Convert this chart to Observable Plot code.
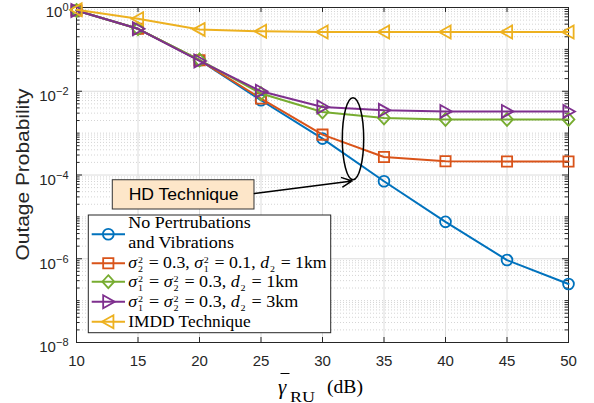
<!DOCTYPE html>
<html><head><meta charset="utf-8">
<script src="https://cdn.jsdelivr.net/npm/d3@7"></script>
<script src="https://cdn.jsdelivr.net/npm/@observablehq/plot@0.6"></script>
<style>
body{margin:0;background:#fff}
#wrap{position:relative;width:594px;height:403px;overflow:hidden;background:#fff}
</style></head><body><div id="wrap"></div>
<script>
// ---------- data ----------
const snrDb = [10, 15, 20, 25, 30, 35, 40, 45, 50];
const noPert   = [0.85, 0.31, 0.055, 0.0061, 7.4e-4, 7.1e-5, 7.6e-6, 9.3e-7, 2.5e-7];
const pertA    = [0.85, 0.31, 0.055, 0.0067, 9.2e-4, 2.7e-4, 2.12e-4, 2.1e-4, 2.1e-4];
const pertB    = [0.85, 0.31, 0.056, 0.0088, 3.2e-3, 2.3e-3, 2.12e-3, 2.12e-3, 2.12e-3];
const pertC    = [0.85, 0.31, 0.053, 0.0100, 4.2e-3, 3.5e-3, 3.3e-3, 3.3e-3, 3.3e-3];
const imdd     = [0.88, 0.54, 0.30, 0.27, 0.26, 0.26, 0.26, 0.26, 0.26];
const xTicks = [10, 15, 20, 25, 30, 35, 40, 45, 50];
const yMajor = [1e-8, 1e-6, 1e-4, 1e-2, 1];
const yMinor = [-8, -7, -6, -5, -4, -3, -2, -1].flatMap(k => [2,3,4,5,6,7,8,9].map(m => m * 10 ** k)).concat([1e-7, 1e-5, 1e-3, 1e-1]);
const hdBox = [{x1: 12.95, x2: 24.47, y1: 1.5e-5, y2: 7.5e-5, label: "HD Technique"}];
const hdArrow = [{x1: 24.47, y1: 3.6e-5, x2: 32.41, y2: 7.2e-5}];
const hdEllipse = {x: 32.52, yTop: 6.8e-3, yBottom: 7.5e-5};

// ---------- styles ----------
const W = 594, H = 403;
const M = {top: 7, right: 26, bottom: 61, left: 76};
const PW = W - M.left - M.right, PH = H - M.top - M.bottom;
const SANS = "'Liberation Sans', Arial, Helvetica, sans-serif";
const SERIF = "'Liberation Serif', 'Times New Roman', serif";
const AX = "#262626";

function poly(pts) {
  return {draw(ctx, size) {
    const r = Math.sqrt(size / Math.PI);
    ctx.moveTo(pts[0][0] * r, pts[0][1] * r);
    for (const p of pts.slice(1)) ctx.lineTo(p[0] * r, p[1] * r);
    ctx.closePath();
  }};
}
const symSquare = poly([[-0.95,-0.95],[0.95,-0.95],[0.95,0.95],[-0.95,0.95]]);
const symDiamond = poly([[0,-1.2],[1.1,0],[0,1.2],[-1.1,0]]);
const symTriR = poly([[1.2,0],[-0.95,-1.2],[-0.95,1.2]]);
const symTriL = poly([[-1.2,0],[0.95,-1.2],[0.95,1.2]]);

const series = [
  {values: noPert, color: "#0072BD", symbol: d3.symbolCircle},
  {values: pertA,  color: "#D95319", symbol: symSquare},
  {values: pertB,  color: "#77AC30", symbol: symDiamond},
  {values: pertC,  color: "#7E2F8E", symbol: symTriR},
  {values: imdd,   color: "#EDB120", symbol: symTriL}
];
const DOT_R = 5.4;

const seriesMarks = series.flatMap(s => {
  const rows = snrDb.map((x, i) => ({x, y: s.values[i]}));
  return [
    Plot.line(rows, {x: "x", y: "y", stroke: s.color, strokeWidth: 2}),
    Plot.dot(rows, {x: "x", y: "y", stroke: s.color, symbol: s.symbol, r: DOT_R, strokeWidth: 1.8, fill: "none"})
  ];
});

const plot = Plot.plot({
  width: W, height: H,
  marginTop: M.top, marginRight: M.right, marginBottom: M.bottom, marginLeft: M.left,
  style: {fontFamily: SANS, fontSize: "15px", color: AX, background: "#fff", overflow: "visible"},
  x: {domain: [10, 50], ticks: xTicks, tickSize: 0, tickPadding: 13, label: null},
  y: {type: "log", domain: [1e-8, 1], ticks: yMajor, tickSize: 0, tickPadding: 8,
      tickFormat: d => "10^" + Math.round(Math.log10(d)), label: null},
  marks: [
    Plot.ruleY(yMinor, {stroke: "#c9c9c9", strokeDasharray: "1,2", strokeWidth: 0.8}),
    Plot.ruleX(xTicks.slice(1, -1), {stroke: "#dcdcdc", strokeWidth: 1}),
    Plot.ruleY(yMajor.slice(1, -1), {stroke: "#dcdcdc", strokeWidth: 1}),
    Plot.ruleX(xTicks, {insetTop: PH - 5, stroke: AX}),
    Plot.ruleX(xTicks, {insetBottom: PH - 5, stroke: AX}),
    Plot.ruleY(yMajor, {insetRight: PW - 6, stroke: AX}),
    Plot.ruleY(yMajor, {insetLeft: PW - 6, stroke: AX}),
    Plot.ruleY(yMinor, {insetRight: PW - 3.5, stroke: AX}),
    Plot.ruleY(yMinor, {insetLeft: PW - 3.5, stroke: AX}),
    Plot.frame({stroke: AX, strokeWidth: 1}),
    ...seriesMarks,
    Plot.rect(hdBox, {x1: "x1", x2: "x2", y1: "y1", y2: "y2", fill: "#FDE6C9", stroke: "#333", strokeWidth: 1}),
    Plot.text(hdBox, {x: d => (d.x1 + d.x2) / 2, y: d => Math.sqrt(d.y1 * d.y2), text: "label",
      fontSize: 16, fontFamily: SANS, fill: "#000"}),
    Plot.arrow(hdArrow, {x1: "x1", y1: "y1", x2: "x2", y2: "y2", stroke: "#000", strokeWidth: 1.5,
      headLength: 11, headAngle: 50})
  ]
});
document.getElementById("wrap").appendChild(plot);

const svg = d3.select(plot);
const xs = plot.scale("x"), ys = plot.scale("y");

// tick label exponents
svg.selectAll("text").each(function() {
  const m = /^10\^(-?\d+)$/.exec(this.textContent);
  if (!m) return;
  const t = d3.select(this);
  t.text(null);
  t.append("tspan").attr("dy", "5").text("10");
  t.append("tspan").attr("dy", "-6").attr("font-size", "11px").text(m[1].replace("-", "\u2212"));
});
svg.selectAll("text").filter(function() { return this.textContent === "HD Technique"; })
  .attr("textLength", 110).attr("lengthAdjust", "spacingAndGlyphs");

// ellipse annotation
{
  const cx = xs.apply(hdEllipse.x);
  const t = ys.apply(hdEllipse.yTop), b = ys.apply(hdEllipse.yBottom);
  svg.append("ellipse").attr("cx", cx).attr("cy", (t + b) / 2).attr("rx", 10.7).attr("ry", (b - t) / 2)
    .attr("fill", "none").attr("stroke", "#000").attr("stroke-width", 1.5);
}

// y label
svg.append("text").attr("transform", `translate(23,${M.top + PH / 2}) rotate(-90)`)
  .attr("text-anchor", "middle").attr("dy", "0.35em").attr("font-family", SANS).attr("font-size", 18)
  .attr("fill", AX).attr("textLength", 172).attr("lengthAdjust", "spacingAndGlyphs").text("Outage Probability");

// math text layout helper
function layoutRow(x0, y, parts, size, target) {
  const g = svg.append("g").attr("font-family", SERIF).attr("fill", "#000").attr("text-anchor", "start");
  let cx = x0;
  const add = (t, x, yy, fs, it) => g.append("text").attr("x", x).attr("y", yy).attr("font-size", fs)
      .attr("text-anchor", "start").attr("font-style", it ? "italic" : null).style("white-space", "pre").text(t);
  const len = n => n.node().getComputedTextLength();
  const small = size * 0.56;
  for (const p of parts) {
    if (typeof p === "string") { cx += len(add(p, cx, y, size, false)); }
    else if (p.i) { cx += len(add(p.i, cx, y, size, true)); }
    else if (p.ss) {
      const a = add(p.ss[0], cx + 0.8, y - 5, small);
      const b = add(p.ss[1], cx + 0.8, y + 3.6, small);
      cx += Math.max(len(a), len(b)) + 2;
    } else if (p.sub) {
      const b = add(p.sub, cx + 0.8, y + 3.6, small);
      cx += len(b) + 2;
    }
  }
  const w = cx - x0;
  if (target) g.attr("transform", `translate(${x0},0) scale(${target / w},1) translate(${-x0},0)`);
  return g;
}

// legend
const LX = 88.3, LY = 215, LW = 242.4, LH = 117.7;
svg.append("rect").attr("x", LX).attr("y", LY).attr("width", LW).attr("height", LH)
  .attr("fill", "#fff").attr("stroke", AX).attr("stroke-width", 1);
const legendY = [234.3, 263.3, 281.7, 301.7, 321.7];
series.forEach((s, i) => {
  const y = legendY[i];
  svg.append("line").attr("x1", 91.7).attr("x2", 125).attr("y1", y).attr("y2", y)
    .attr("stroke", s.color).attr("stroke-width", 2);
  svg.append("path").attr("transform", `translate(108.3,${y})`)
    .attr("d", d3.symbol(s.symbol, DOT_R * DOT_R * Math.PI)()).attr("fill", "none")
    .attr("stroke", s.color).attr("stroke-width", 1.8);
});
const TX = 128.3, FS = 16;
layoutRow(TX, 228.3, ["No Pertrubations"], FS, 122.4);
layoutRow(TX, 248.3, ["and Vibrations"], FS, 105.7);
layoutRow(TX, 268.3, [{i: "σ"}, {ss: ["2", "2"]}, " = 0.3, ", {i: "σ"}, {ss: ["2", "1"]}, " = 0.1, ", {i: "d"}, {sub: "2"}, " = 1km"], FS, 198.4);
layoutRow(TX, 287.3, [{i: "σ"}, {ss: ["2", "1"]}, " = ", {i: "σ"}, {ss: ["2", "2"]}, " = 0.3, ", {i: "d"}, {sub: "2"}, " = 1km"], FS, 170);
layoutRow(TX, 307.3, [{i: "σ"}, {ss: ["2", "1"]}, " = ", {i: "σ"}, {ss: ["2", "2"]}, " = 0.3, ", {i: "d"}, {sub: "2"}, " = 3km"], FS, 170);
layoutRow(TX, 327.3, ["IMDD Technique"], FS, 122.4);

// x label
{
  const g = svg.append("g").attr("font-family", SERIF).attr("fill", "#000").attr("text-anchor", "start");
  g.append("text").attr("x", 278).attr("y", 394).attr("font-size", 21).attr("font-style", "italic").text("γ");
  g.append("text").attr("x", 290).attr("y", 401.5).attr("font-size", 15)
    .attr("textLength", 25).attr("lengthAdjust", "spacingAndGlyphs").text("RU");
  g.append("text").attr("x", 327).attr("y", 393).attr("font-size", 19)
    .attr("textLength", 36).attr("lengthAdjust", "spacingAndGlyphs").text("(dB)");
  g.append("line").attr("x1", 280.5).attr("x2", 289.5).attr("y1", 373.5).attr("y2", 373.5)
    .attr("stroke", "#000").attr("stroke-width", 1);
}
</script></body></html>
